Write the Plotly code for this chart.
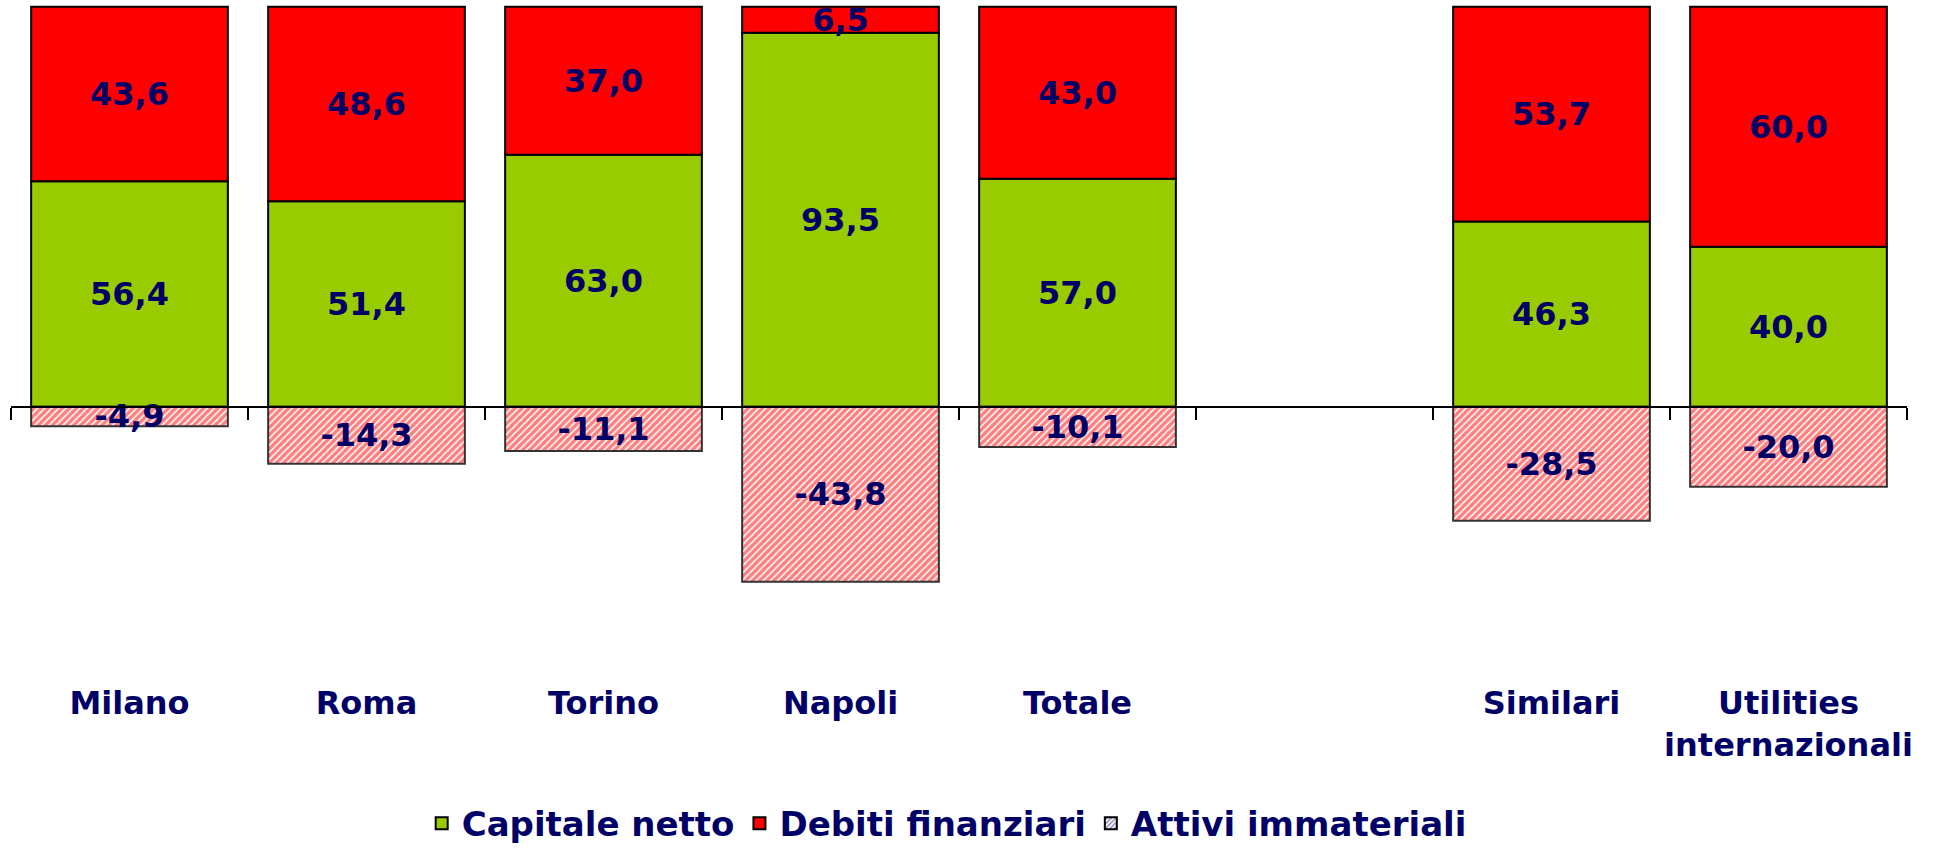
import plotly.graph_objects as go

categories = ["Milano", "Roma", "Torino", "Napoli", "Totale", " ", "Similari", "Utilities<br>internazionali"]
capitale_netto = [56.4, 51.4, 63.0, 93.5, 57.0, None, 46.3, 40.0]
debiti_finanziari = [43.6, 48.6, 37.0, 6.5, 43.0, None, 53.7, 60.0]
attivi_immateriali = [-4.9, -14.3, -11.1, -43.8, -10.1, None, -28.5, -20.0]

NAVY = "#000066"
GREEN = "#99CC00"
RED = "#FF0000"
FONT = "DejaVu Sans"


def fmt(vals):
    return ["" if v is None else f"{v:.1f}".replace(".", ",") for v in vals]


label_font = dict(family=FONT, size=32, color=NAVY, weight="bold")
common_text = dict(textposition="inside", insidetextanchor="middle", textangle=0,
                   textfont=label_font, constraintext="none")

fig = go.Figure()
fig.add_trace(go.Bar(
    x=categories, y=capitale_netto, name="Capitale netto",
    marker=dict(color=GREEN, line=dict(color="black", width=2)),
    text=fmt(capitale_netto), **common_text,
))
fig.add_trace(go.Bar(
    x=categories, y=debiti_finanziari, name="Debiti finanziari",
    marker=dict(color=RED, line=dict(color="black", width=2)),
    text=fmt(debiti_finanziari), **common_text,
))
fig.add_trace(go.Bar(
    x=categories, y=attivi_immateriali, name="Attivi immateriali", showlegend=False,
    marker=dict(color="white", line=dict(color="#333333", width=2),
                pattern=dict(shape="/", fgcolor=RED, bgcolor="white", size=5, solidity=0.7)),
    text=fmt(attivi_immateriali), **common_text,
))
# legend entry for the hatched series (navy hatch as in the original legend);
# it lives on the overlaid zero-line axis so that axis gets drawn
fig.add_trace(go.Bar(
    x=[None], y=[None], name="Attivi immateriali", xaxis="x2",
    marker=dict(color="white", line=dict(color="black", width=2),
                pattern=dict(shape="/", fgcolor=NAVY, bgcolor="white", size=4, solidity=0.45)),
))

y_top = 101.7
y_bot = -64.6
zero_pos = (0 - y_bot) / (y_top - y_bot)

fig.update_layout(
    width=1938, height=849,
    paper_bgcolor="white", plot_bgcolor="white",
    margin=dict(l=11, r=31, t=0, b=184),
    barmode="relative", bargap=0.17,
    uniformtext=dict(minsize=32, mode="show"),
    font=dict(family=FONT, color=NAVY),
    showlegend=True,
    legend=dict(orientation="h", x=0.4935, xanchor="center", yref="container", y=0.03, yanchor="middle",
                font=dict(family=FONT, size=34, color=NAVY, weight="bold"),
                itemwidth=30, traceorder="normal"),
    xaxis=dict(type="category", categoryorder="array", categoryarray=categories,
               range=[-0.5, len(categories) - 0.5], automargin=False,
               showline=False, ticks="", showgrid=False, zeroline=False,
               ticklabelstandoff=16,
               tickfont=dict(family=FONT, size=32, color=NAVY, weight="bold")),
    xaxis2=dict(overlaying="x", anchor="free", position=zero_pos, side="bottom",
                range=[-0.5, len(categories) - 0.5], automargin=False,
                tickvals=[i - 0.5 for i in range(len(categories) + 1)],
                showticklabels=False, ticks="outside", ticklen=12, tickwidth=2, tickcolor="black",
                showline=True, linecolor="black", linewidth=2, showgrid=False, zeroline=False),
    yaxis=dict(range=[y_bot, y_top], visible=False, showgrid=False, zeroline=False, automargin=False),
)

fig.write_html("out.html", config={"displayModeBar": False},
               post_script="document.body.style.margin='0';")
